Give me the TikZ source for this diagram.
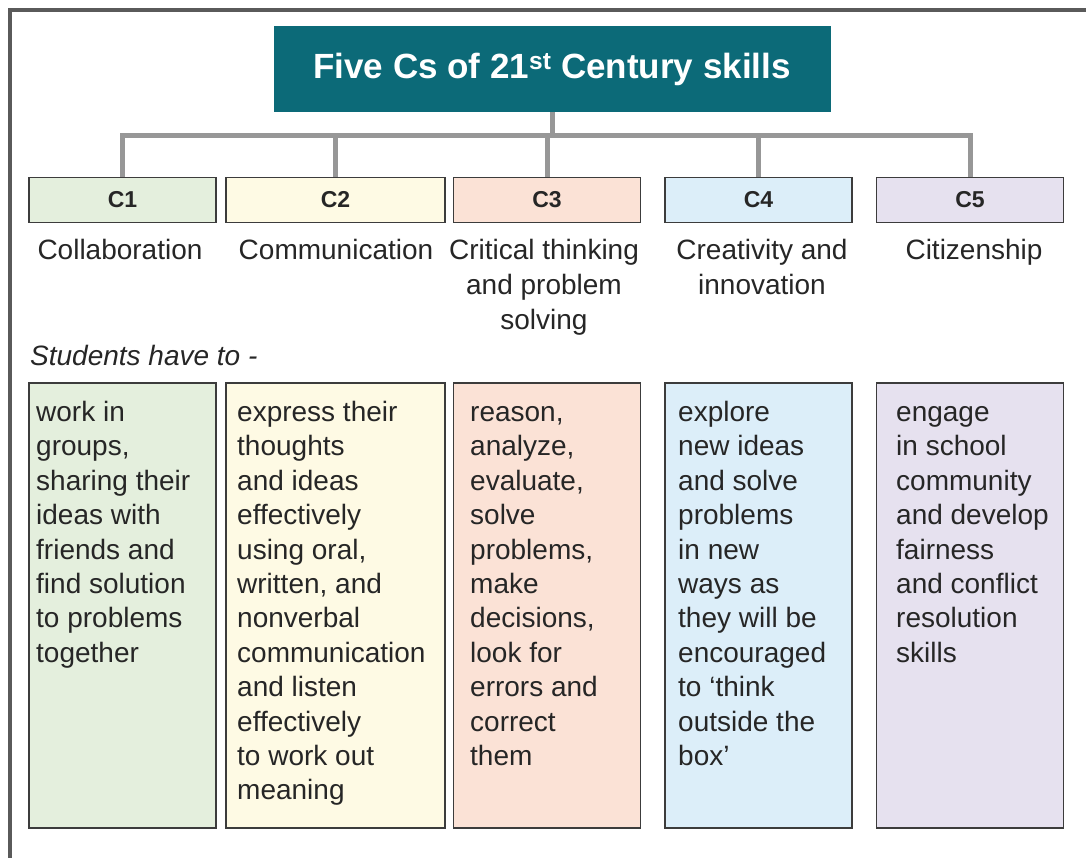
\documentclass[tikz,border=0pt]{standalone}
\usepackage{fontspec}
\setmainfont{Liberation Sans}
\definecolor{tealhead}{HTML}{0C6A78}
\definecolor{cgreen}{HTML}{E4EFDD}
\definecolor{cyellow}{HTML}{FEFAE4}
\definecolor{cpeach}{HTML}{FBE2D6}
\definecolor{cblue}{HTML}{DCEEF9}
\definecolor{clav}{HTML}{E6E1EF}
\definecolor{connGray}{HTML}{979797}
\definecolor{frameGray}{HTML}{5A5A5A}
\definecolor{boxLine}{HTML}{3C3C3C}
\definecolor{txt}{HTML}{262626}
\newcommand{\colpar}[1]{\parbox[t]{215pt}{\raggedright #1}}
\newcommand{\cenpar}[1]{\parbox[t]{215pt}{\centering #1}}
\begin{document}
\begin{tikzpicture}[x=1pt,y=-1pt,
  frameline/.style={draw=frameGray,line width=4pt},
  titlebox/.style={fill=tealhead,draw=none,minimum width=557pt,minimum height=86pt,inner sep=0pt,
    text=white,font=\fontsize{35}{40}\selectfont\bfseries},
  conn/.style={draw=connGray,line width=5pt},
  headbox/.style={draw=boxLine,line width=1.6pt,minimum height=45pt,inner sep=0pt,
    text=txt,font=\fontsize{23}{28}\selectfont\bfseries},
  lowbox/.style={draw=boxLine,line width=1.6pt,minimum height=445pt,inner sep=0pt},
  bodytext/.style={inner sep=0pt,anchor=base west,text=txt,font=\fontsize{28}{34.4}\selectfont},
  undertext/.style={inner sep=0pt,anchor=base,text=txt,font=\fontsize{28}{35}\selectfont},
  stud/.style={inner sep=0pt,anchor=base west,text=txt,font=\fontsize{28}{34}\selectfont\itshape}]
\useasboundingbox (0,0) rectangle (1086,858);
\fill[white] (0,0) rectangle (1086,858);
% frame
\coordinate (fbl) at (10,858);
\coordinate (ftl) at (10,10.5);
\coordinate (ftr) at (1086,10.5);
\draw[frameline] (fbl) -- (ftl) -- (ftr);
% title
\node[titlebox] (title) at (552,69) {Five Cs of 21\textsuperscript{st} Century skills};
% header boxes
\node[headbox,fill=cgreen,minimum width=187pt] (c1) at (122.5,200) {C1};
\node[headbox,fill=cyellow,minimum width=219pt] (c2) at (335.5,200) {C2};
\node[headbox,fill=cpeach,minimum width=187pt] (c3) at (547,200) {C3};
\node[headbox,fill=cblue,minimum width=187pt] (c4) at (758.5,200) {C4};
\node[headbox,fill=clav,minimum width=187pt] (c5) at (970,200) {C5};
% connectors
\coordinate (barL) at (122.5,136);
\coordinate (barR) at (970,136);
\draw[conn] (title.south) -- (title.south |- barL);
\draw[conn,line cap=rect] (barL) -- (barR);
\foreach \c in {c1,c2,c3,c4,c5}{
  \draw[conn] (\c.north |- barL) -- (\c.north);
}
% labels under header boxes
\node[undertext] (l1) at (120,260) {Collaboration};
\node[undertext] (l2) at (336,260) {Communication};
\node[undertext] (l3) at (544,260) {\cenpar{Critical thinking\\and problem\\solving}};
\node[undertext] (l4) at (762,260) {\cenpar{Creativity and\\innovation}};
\node[undertext] (l5) at (974,260) {Citizenship};
\node[stud] (students) at (30,365) {Students have to -};
% lower boxes
\node[lowbox,fill=cgreen,minimum width=187pt] (b1) at (122.5,605.5) {};
\node[lowbox,fill=cyellow,minimum width=219pt] (b2) at (335.5,605.5) {};
\node[lowbox,fill=cpeach,minimum width=187pt] (b3) at (547,605.5) {};
\node[lowbox,fill=cblue,minimum width=187pt] (b4) at (758.5,605.5) {};
\node[lowbox,fill=clav,minimum width=187pt] (b5) at (970,605.5) {};
\node[bodytext] (t1) at (36,421.5) {\colpar{work in\\groups,\\sharing their\\ideas with\\friends and\\find solution\\to problems\\together}};
\node[bodytext] (t2) at (237,421.5) {\colpar{express their\\thoughts\\and ideas\\effectively\\using oral,\\written, and\\nonverbal\\communication\\and listen\\effectively\\to work out\\meaning}};
\node[bodytext] (t3) at (470,421.5) {\colpar{reason,\\analyze,\\evaluate,\\solve\\problems,\\make\\decisions,\\look for\\errors and\\correct\\them}};
\node[bodytext] (t4) at (678,421.5) {\colpar{explore\\new ideas\\and solve\\problems\\in new\\ways as\\they will be\\encouraged\\to ‘think\\outside the\\box’}};
\node[bodytext] (t5) at (896,421.5) {\colpar{engage\\in school\\community\\and develop\\fairness\\and conflict\\resolution\\skills}};
\end{tikzpicture}
\end{document}
